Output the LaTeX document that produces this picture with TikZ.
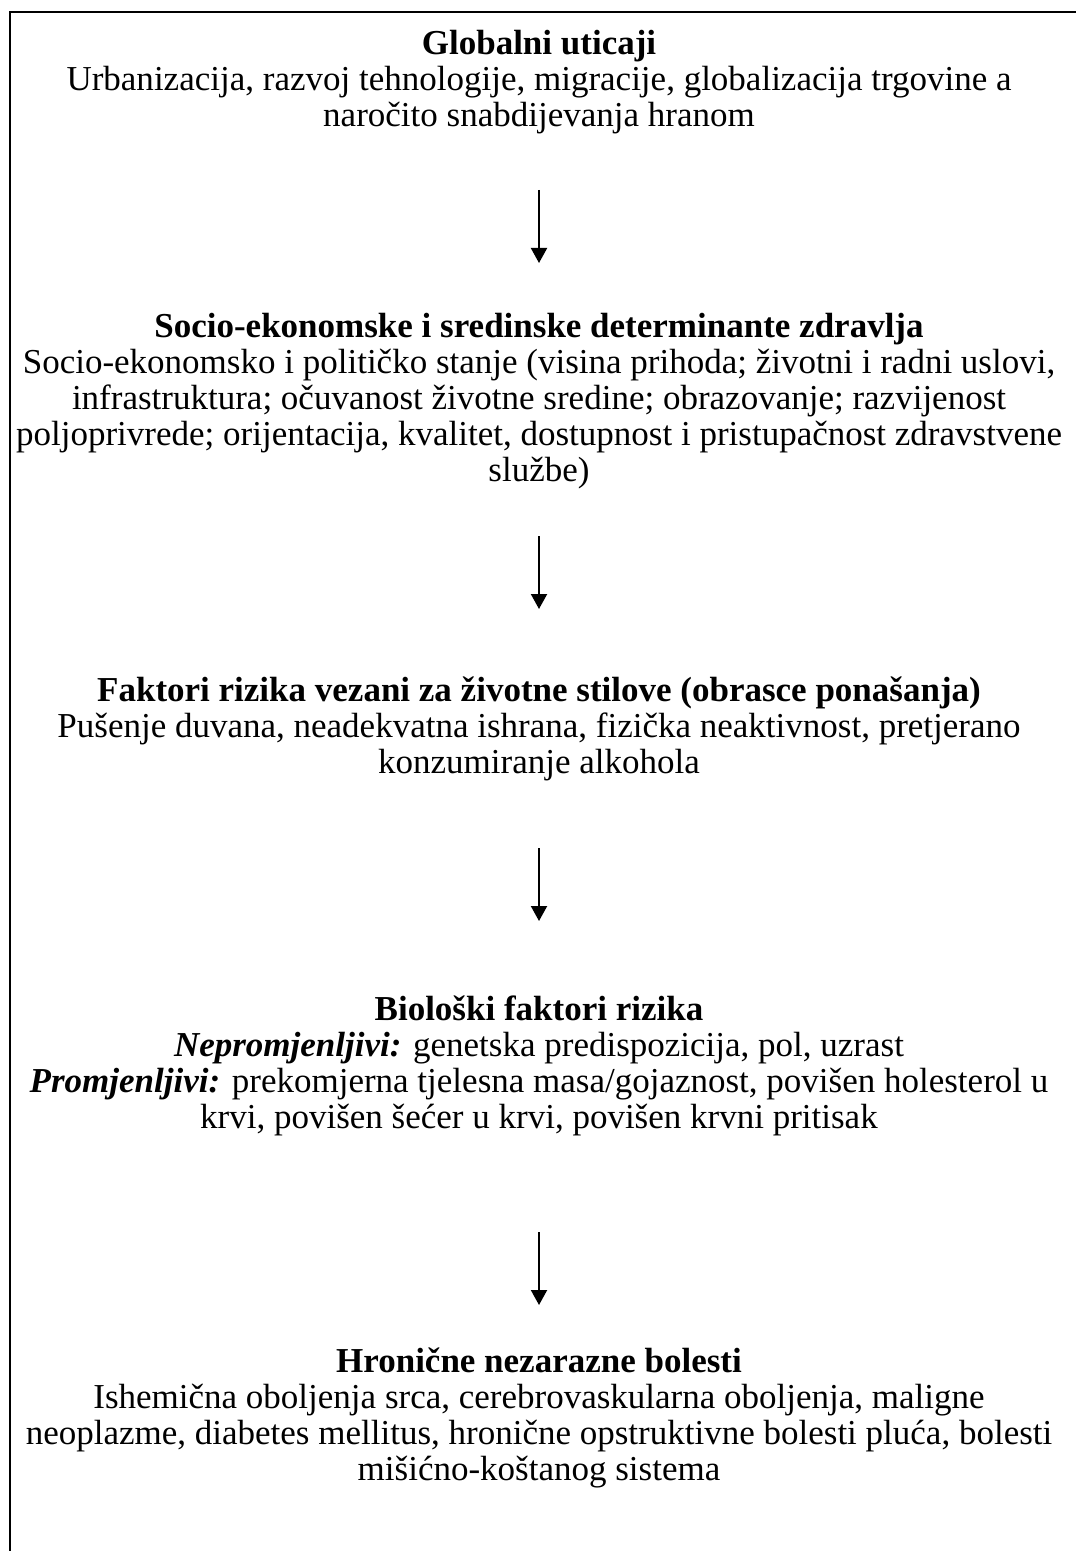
\documentclass[tikz,border=0pt]{standalone}
\usepackage{fontspec}
\setmainfont{Liberation Serif}
\usetikzlibrary{arrows.meta}

\begin{document}
\begin{tikzpicture}[x=0.5pt,y=-0.5pt,
    block/.style={anchor=north,align=center,inner sep=0pt,
      font=\fontsize{17.5}{18}\selectfont},
    flow/.style={-{Triangle[width=8pt,length=7.5pt]},line width=1pt}]
  \useasboundingbox (0,0) rectangle (1076,1551);
  % frame (top and left edges only)
  \draw[line width=1pt] (10,1551) -- (10,12) -- (1076,12);
  % text blocks
  \node[block] (global) at (539,30) {\textbf{Globalni uticaji}\\
    Urbanizacija, razvoj tehnologije, migracije, globalizacija trgovine a\\
    naročito snabdijevanja hranom};
  \node[block] (socio) at (539,313) {\textbf{Socio-ekonomske i sredinske determinante zdravlja}\\
    Socio-ekonomsko i političko stanje (visina prihoda; životni i radni uslovi,\\
    infrastruktura; očuvanost životne sredine; obrazovanje; razvijenost\\
    poljoprivrede; orijentacija, kvalitet, dostupnost i pristupačnost zdravstvene\\
    službe)};
  \node[block] (stil) at (539,676) {\textbf{Faktori rizika vezani za životne stilove (obrasce ponašanja)}\\
    Pušenje duvana, neadekvatna ishrana, fizička neaktivnost, pretjerano\\
    konzumiranje alkohola};
  \node[block] (bio) at (539,995) {\textbf{Biološki faktori rizika}\\
    \textbf{\textit{Nepromjenljivi:}} genetska predispozicija, pol, uzrast\\
    \textbf{\textit{Promjenljivi:}} prekomjerna tjelesna masa/gojaznost, povišen holesterol u\\
    krvi, povišen šećer u krvi, povišen krvni pritisak};
  \node[block] (bolest) at (539,1347) {\textbf{Hronične nezarazne bolesti}\\
    Ishemična oboljenja srca, cerebrovaskularna oboljenja, maligne\\
    neoplazme, diabetes mellitus, hronične opstruktivne bolesti pluća, bolesti\\
    mišićno-koštanog sistema};
  % arrow ends
  \coordinate (s1) at (539,190);  \coordinate (e1) at (539,263);
  \coordinate (s2) at (539,536);  \coordinate (e2) at (539,609);
  \coordinate (s3) at (539,848);  \coordinate (e3) at (539,921);
  \coordinate (s4) at (539,1232); \coordinate (e4) at (539,1305);
  % arrows
  \foreach \i in {1,...,4}
    \draw[flow] (s\i) -- (e\i);
\end{tikzpicture}
\end{document}
